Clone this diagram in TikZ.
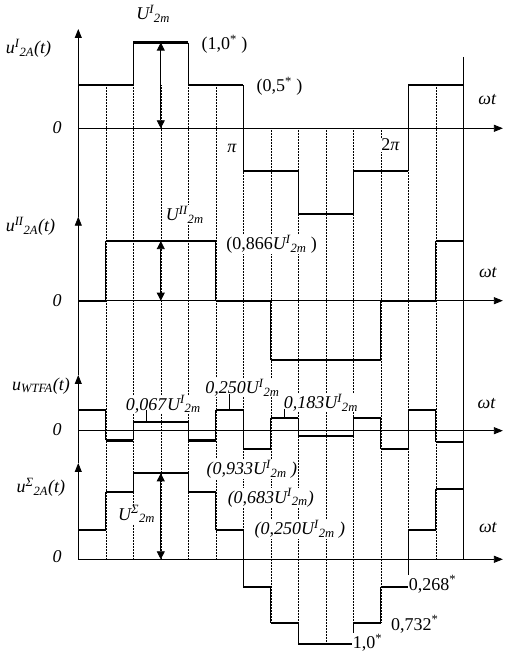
\documentclass[tikz,border=0pt]{standalone}
\usepackage{fontspec}
\setmainfont{Liberation Serif}
\usetikzlibrary{arrows.meta}

\newcommand{\UIm}{\textit{U\textsuperscript{I}\textsubscript{2m}}}

\tikzset{
    axis/.style={line width=0.8pt,-{Triangle[length=9pt,width=7pt]}},
    wave/.style={line width=2.2pt},
    riser/.style={line width=0.8pt},
    guide/.style={densely dotted,line width=0.5pt},
    ampl/.style={line width=0.8pt,{Triangle[length=8pt,width=8pt]}-{Triangle[length=8pt,width=8pt]}},
    lbl/.style={fill=white,inner sep=1pt,font=\fontsize{18}{20}\selectfont}
}

\begin{document}
\begin{tikzpicture}[x=27.5pt,y=1pt]
    \useasboundingbox (-2.847,0) rectangle (15.698,657);

    % Rejilla
    \foreach \k/\t/\b in {1/571.7/97.7,2/571.7/97.7,3/571.7/97.7,4/571.7/97.7,5/571.7/97.7,
        6/528.7/97.7,7/528.7/33.7,8/528.7/12.7,9/528.7/12.7,10/528.7/12.7,11/528.7/33.7,
        12/528.7/97.7,13/571.7/97.7}
        \draw[guide] (\k,\t) -- (\k,\b);

    % Ejes verticales
    \draw[axis] (0,97.7) -- (0,194);
    \draw[axis] (0,194) -- (0,282);
    \draw[axis] (0,282) -- (0,440.3);
    \draw[axis] (0,440.3) -- (0,628);
    \draw[riser] (14,600) -- (14,97.7);

    % u^I
    \begin{scope}[yshift=528.7pt]
        \draw[axis] (0,0) -- (15.44,0);
        \foreach \a/\b/\v/\w in {0/2/43/85.7,2/4/85.7/43,4/6/43/-43,6/8/-43/-85.7,
            8/10/-85.7/-43,10/12/-43/43,12/14/43/43}{
            \draw[wave] (\a,\v) -- (\b,\v);
            \draw[riser] (\b,\v) -- (\b,\w);
        }
        \coordinate (aI) at (3,85.7);
        \coordinate (bI) at (3,0);
        \draw[ampl] (aI) -- (bI);
        \node[lbl] (UI) at (2.72,114.5) {\UIm};
        \node[lbl] (uI) at (-1.81,80) {\textit{u\textsuperscript{I}\textsubscript{2A}(t)}};
        \node[lbl] (oneI) at (5.32,84) {(1,0\textsuperscript{*}~)};
        \node[lbl] (halfI) at (7.32,42) {(0,5\textsuperscript{*}~)};
        \node[lbl] (zI) at (-0.77,0.3) {\textit{0}};
        \node[lbl] (pi) at (5.59,-19.7) {\textit{π}};
        \node[lbl] (twopi) at (11.36,-16.7) {2\textit{π}};
        \node[lbl] (wI) at (14.88,28.3) {\textit{ωt}};
    \end{scope}

    % u^II
    \begin{scope}[yshift=356.3pt]
        \draw[axis] (0,0) -- (15.44,0);
        \foreach \a/\b/\v/\w in {0/1/0/59.6,1/5/59.6/0,5/7/0/-59.6,7/11/-59.6/0,
            11/13/0/59.6,13/14/59.6/59.6}{
            \draw[wave] (\a,\v) -- (\b,\v);
            \draw[riser] (\b,\v) -- (\b,\w);
        }
        \coordinate (aII) at (3,59.6);
        \coordinate (bII) at (3,0);
        \draw[ampl] (aII) -- (bII);
        \node[lbl] (UII) at (3.87,86) {\textit{U\textsuperscript{II}\textsubscript{2m}}};
        \node[lbl] (uII) at (-1.74,74.5) {\textit{u\textsuperscript{II}\textsubscript{2A}(t)}};
        \node[lbl] (n866) at (7.03,56.5) {(0,866\UIm~)};
        \node[lbl] (zII) at (-0.77,0) {\textit{0}};
        \node[lbl] (wII) at (14.9,27.7) {\textit{ωt}};
    \end{scope}

    % u_WTFA
    \begin{scope}[yshift=226.3pt]
        \draw[axis] (0,0) -- (15.44,0);
        \foreach \a/\b/\v/\w in {0/1/20.5/-9.8,1/2/-9.8/8.5,2/4/8.5/-9.8,4/5/-9.8/20.5,
            5/6/20.5/-18.5,6/7/-18.5/12.5,7/8/12.5/-5.5,8/10/-5.5/12.5,10/11/12.5/-18.5,
            11/12/-18.5/20.5,12/13/20.5/-11,13/14/-11/-11}{
            \draw[wave] (\a,\v) -- (\b,\v);
            \draw[riser] (\b,\v) -- (\b,\w);
        }
        \node[lbl] (uW) at (-1.36,45) {\textit{u\textsubscript{WTFA}(t)}};
        \node[lbl] (zW) at (-0.77,0.7) {\textit{0}};
        \node[lbl] (n067) at (3.09,26.5) {\textit{0,067}\UIm};
        \node[lbl] (n250) at (5.97,43) {\textit{0,250}\UIm};
        \node[lbl] (n183) at (8.82,28) {\textit{0,183}\UIm};
        \node[lbl] (wW) at (14.85,27.4) {\textit{ωt}};
        \coordinate (l067) at (2.49,8.5);
        \coordinate (l250) at (5.49,20.5);
        \coordinate (l183) at (7.48,12.5);
        \draw[riser] (l067) -- (l067 |- n067.base);
        \draw[riser] (l250) -- (l250 |- n250.base);
        \draw[riser] (l183) -- (l183 |- n183.base);
    \end{scope}

    % u^Sigma
    \begin{scope}[yshift=97.7pt]
        \draw[axis] (0,0) -- (15.44,0);
        \foreach \a/\b/\v/\w in {0/1/29/67,1/2/67/86,2/4/86/67,4/5/67/29,5/6/29/-28,
            6/7/-28/-64,7/8/-64/-85,8/10/-85/-64,10/11/-64/-28,11/12/-28/29,
            12/13/29/70,13/14/70/70}{
            \draw[wave] (\a,\v) -- (\b,\v);
            \draw[riser] (\b,\v) -- (\b,\w);
        }
        \coordinate (aS) at (3,86);
        \coordinate (bS) at (3,0);
        \draw[ampl] (aS) -- (bS);
        \node[lbl] (US) at (2.12,45) {\textit{U\textsuperscript{Σ}\textsubscript{2m}}};
        \node[lbl] (uS) at (-1.36,72) {\textit{u\textsuperscript{Σ}\textsubscript{2A}(t)}};
        \node[lbl] (zS) at (-0.77,2.3) {\textit{0}};
        \node[lbl] (n933) at (6.31,90) {\textit{(0,933}\UIm\textit{~)}};
        \node[lbl] (n683) at (7.0,61.5) {\textit{(0,683}\UIm\textit{)}};
        \node[lbl] (n250S) at (8.06,30) {\textit{(0,250}\UIm\textit{~)}};
        \node[lbl] (n268) at (12.88,-25) {0,268\textsuperscript{*}};
        \node[lbl] (n732) at (12.24,-65) {0,732\textsuperscript{*}};
        \node[lbl] (n10) at (10.52,-83.4) {1,0\textsuperscript{*}};
        \node[lbl] (wS) at (14.9,31.3) {\textit{ωt}};
    \end{scope}
\end{tikzpicture}
\end{document}
